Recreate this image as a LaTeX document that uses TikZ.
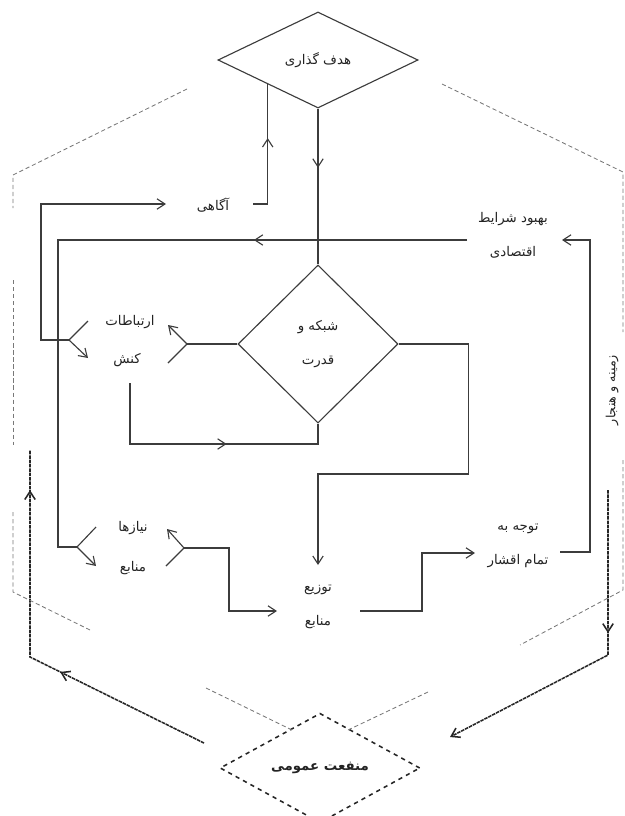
\documentclass[tikz,border=0pt]{standalone}
\usepackage{fontspec}
\usepackage{tikz}
\usetikzlibrary{arrows.meta,positioning,shapes.geometric,decorations.markings}
\newfontfamily\farsi[Script=Arabic]{DejaVu Sans}
\TeXXeTstate=1
\newcommand{\fa}[1]{\beginR #1\endR}
\definecolor{linegray}{RGB}{60,60,60}
\definecolor{framegray}{RGB}{120,120,120}
\definecolor{textgray}{RGB}{35,35,35}

\begin{document}
\begin{tikzpicture}[
    x=0.025cm, y=-0.025cm,
    arr/.style={-{Straight Barb[length=2mm,width=2.6mm]}},
    flow/.style={draw=linegray, line width=0.8pt},
    hexline/.style={draw=framegray, line width=0.6pt, dash pattern=on 3pt off 2pt},
    backloop/.style={draw=black!85, line width=1.1pt, dash pattern=on 2.5pt off 0.6pt},
    midtip/.style={postaction={decorate, decoration={markings, mark=at position #1 with {\arrow{Straight Barb[length=2mm,width=2.6mm]}}}}},
    txt/.style={font=\farsi\fontsize{9.5}{24}\selectfont, text=textgray, align=center, inner sep=1pt},
    rhomb/.style={diamond, draw=linegray, line width=0.8pt, inner sep=0pt, fill=white, font=\farsi\fontsize{9.5}{24}\selectfont, text=textgray, align=center}
]
\useasboundingbox (0,0) rectangle (625,816);

% Diamonds
\node[rhomb, minimum width=5cm, minimum height=2.4cm] (goal) at (318,60) {\fa{هدف گذاری}};
\node[rhomb, minimum width=4cm, minimum height=3.95cm] (network) at (318,344) {\fa{شبکه و}\\\fa{قدرت}};
\node[rhomb, dashed, line width=1.1pt, draw=black!85, minimum width=5cm, minimum height=2.35cm, font=\farsi\bfseries\fontsize{9.5}{11}\selectfont] (public) at (320,768) {\fa{منفعت عمومی}};

% Labels
\node[txt] (aware) at (213,205) {\fa{آگاهی}};
\node[txt] (econ) at (513,235) {\fa{بهبود شرایط}\\\fa{اقتصادی}};
\node[txt] (comm) at (130,322) {\fa{ارتباطات}};
\node[txt] (act) at (127,360) {\fa{کنش}};
\node[txt] (needs) at (133,528) {\fa{نیازها}};
\node[txt] (res) at (133,568) {\fa{منابع}};
\node[txt] (dist) at (318,607) {\fa{توزیع}\\\fa{منابع}};
\node[txt] (attn) at (518,546) {\fa{توجه به}\\\fa{تمام اقشار}};
\node[txt, rotate=90, font=\farsi\fontsize{9}{11}\selectfont] (context) at (612,390) {\fa{زمینه و هنجار}};

% Ports
\coordinate (awareR) at (253,204);
\coordinate (awareL) at (166,204);
\coordinate (econL) at (467,240);
\coordinate (econR) at (562,240);
\coordinate (fkComm) at (69,340);
\coordinate (fkNet) at (187,344);
\coordinate (actS) at (130,383);
\coordinate (fkRes) at (77,547);
\coordinate (fkNeeds) at (184,548);
\coordinate (distW) at (277,611);
\coordinate (distN) at (318,565);
\coordinate (distE) at (360,611);
\coordinate (attnW) at (475,553);
\coordinate (attnE) at (560,552);
\coordinate (loopL) at (204,743);
\coordinate (loopLtop) at (30,450);
\coordinate (loopRtop) at (608,490);
\coordinate (loopR) at (450,737);

% Main flow
\draw[flow, midtip=0.38] (goal.south) -- (network.north);
\draw[flow, midtip=0.6] (awareR) -| (goal.south west);
\draw[flow, midtip=0.29] (econL) -- ++(-409,0) |- (fkRes);
\draw[flow] (fkRes) -- ++(19,-20);
\draw[flow, arr] (fkRes) -- ++(19,19);
\draw[flow, arr] (fkComm) -- ++(-28,0) |- (awareL);
\draw[flow] (fkComm) -- ++(19,-19);
\draw[flow, arr] (fkComm) -- ++(19,18);
\draw[flow] (network.west) -- (fkNet);
\draw[flow, arr] (fkNet) -- ++(-19,-19);
\draw[flow] (fkNet) -- ++(-19,19);
\draw[flow, midtip=0.585] (actS) -- ++(0,61) -| (network.south);
\draw[flow, arr] (network.east) -- ++(70,0) -- ++(0,130) -| (distN);
\draw[flow, arr] (fkNeeds) -- ++(-17,-19);
\draw[flow] (fkNeeds) -- ++(-18,18);
\draw[flow, arr] (fkNeeds) -- ++(45,0) |- (distW);
\draw[flow, arr] (distE) -- ++(62,0) |- (attnW);
\draw[flow, arr] (attnE) -- ++(30,0) |- (econR);

% Outer loop
\draw[backloop, midtip=0.4, midtip=0.9] (loopL) -- ++(-174,-86) -- (loopLtop);
\draw[backloop, midtip=0.417, arr] (loopRtop) -- ++(0,165) -- (loopR);

% Frame
\draw[hexline] (187,89) -- (13,175) -- (13,208);
\draw[hexline] (13,280) -- (13,445);
\draw[hexline] (13,512) -- (13,592) -- (90,630);
\draw[hexline] (442,84) -- (623,172) -- (623,332);
\draw[hexline] (623,460) -- (623,590) -- (520,645);
\draw[hexline] (206,688) -- (292,730);
\draw[hexline] (428,692) -- (348,730);

\end{tikzpicture}
\end{document}
